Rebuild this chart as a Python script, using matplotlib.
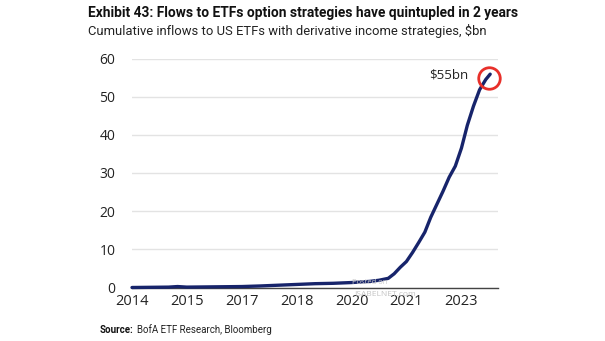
import matplotlib
matplotlib.use("Agg")
import matplotlib.pyplot as plt
import pandas as pd

dates = ["2014-01-01", "2014-07-01", "2015-01-01", "2015-04-01", "2015-07-01",
         "2016-01-01", "2016-07-01", "2017-01-01", "2017-07-01", "2018-01-01",
         "2018-07-01", "2019-01-01", "2019-07-01", "2020-01-01", "2020-07-01",
         "2020-10-01", "2021-01-01", "2021-03-01", "2021-05-01", "2021-07-01",
         "2021-09-01", "2021-11-01", "2022-01-01", "2022-03-01", "2022-05-01",
         "2022-07-01", "2022-09-01", "2022-11-01", "2023-01-01", "2023-03-01",
         "2023-05-01", "2023-07-01", "2023-09-01", "2023-10-15"]
values = [0.0, 0.05, 0.1, 0.25, 0.1,
          0.15, 0.2, 0.25, 0.4, 0.6,
          0.8, 1.0, 1.1, 1.3, 1.6,
          1.9, 2.4, 3.6, 5.3, 6.8,
          9.2, 11.8, 14.5, 18.4, 21.8,
          25.2, 28.9, 31.8, 36.5, 42.5,
          47.5, 51.8, 54.5, 55.9]
tick_dates = ["2014-01-01", "2015-07-01", "2017-01-01", "2018-07-01",
              "2020-01-01", "2021-07-01", "2023-01-01"]
tick_labels = ["2014", "2015", "2017", "2018", "2020", "2021", "2023"]
y_ticks = [0, 10, 20, 30, 40, 50, 60]
highlight_date = "2023-10-01"
highlight_value = 54.8
highlight_label = "$55bn"

title = "Exhibit 43: Flows to ETFs option strategies have quintupled in 2 years"
subtitle = "Cumulative inflows to US ETFs with derivative income strategies, $bn"

narrow = ["Roboto", "DejaVu Sans"]
plain = ["Open Sans", "DejaVu Sans"]

fig = plt.figure(figsize=(6.05, 3.41), dpi=100)
ax = fig.add_axes([132 / 605, 1 - 287.5 / 341, (498 - 132) / 605, (287.5 - 58.5) / 341])

x = pd.to_datetime(dates)
ax.plot(x, values, color="#17246b", lw=2.4, solid_capstyle="round", clip_on=False, zorder=3)
ax.plot([pd.Timestamp(highlight_date)], [highlight_value], marker="o", ms=15.5,
        mfc="none", mec="#e8302a", mew=2.0, zorder=4, clip_on=False)
ax.text(pd.Timestamp("2023-03-10"), highlight_value + 1.0, highlight_label,
        ha="right", va="center", fontsize=9.5, family=plain, color="#222222")

ax.set_xlim(pd.Timestamp("2014-01-01"), pd.Timestamp("2024-01-01"))
ax.set_ylim(0, 60)
ax.set_yticks(y_ticks)
ax.set_yticklabels([str(v) for v in y_ticks], family=plain, fontsize=10, color="#222222")
ax.set_xticks(pd.to_datetime(tick_dates))
ax.set_xticklabels(tick_labels, family=plain, fontsize=10.5, color="#222222")
ax.tick_params(axis="both", length=0)
ax.tick_params(axis="y", pad=12)
ax.tick_params(axis="x", pad=5)
ax.grid(axis="y", color="#e3e3e3", lw=1.0)
ax.set_axisbelow(True)
for s in ["top", "right", "left"]:
    ax.spines[s].set_visible(False)
ax.spines["bottom"].set_color("#444444")
ax.spines["bottom"].set_linewidth(1.0)

fig.text(88 / 605, 1 - 13 / 341, title, ha="left", va="center", fontsize=9.9,
         fontweight="bold", family=narrow, color="#111111")
fig.text(88 / 605, 1 - 31 / 341, subtitle, ha="left", va="center", fontsize=9.4,
         family=narrow, color="#222222")
fig.text(100 / 605, 1 - 330 / 341, "Source:", ha="left", va="center", fontsize=7,
         fontweight="bold", family=narrow, color="#111111")
fig.text(137 / 605, 1 - 330 / 341, "BofA ETF Research, Bloomberg", ha="left", va="center",
         fontsize=7, family=narrow, color="#222222")

# watermark
fig.text(370 / 605, 1 - 283 / 341, "Posted on", ha="center", va="center", fontsize=5.5,
         color="#cccccc", family=plain)
fig.text(385 / 605, 1 - 294 / 341, "ISABELNET.com", ha="center", va="center", fontsize=6,
         color="#c4c4c4", family=plain)

fig.savefig("out.png", dpi=100)
